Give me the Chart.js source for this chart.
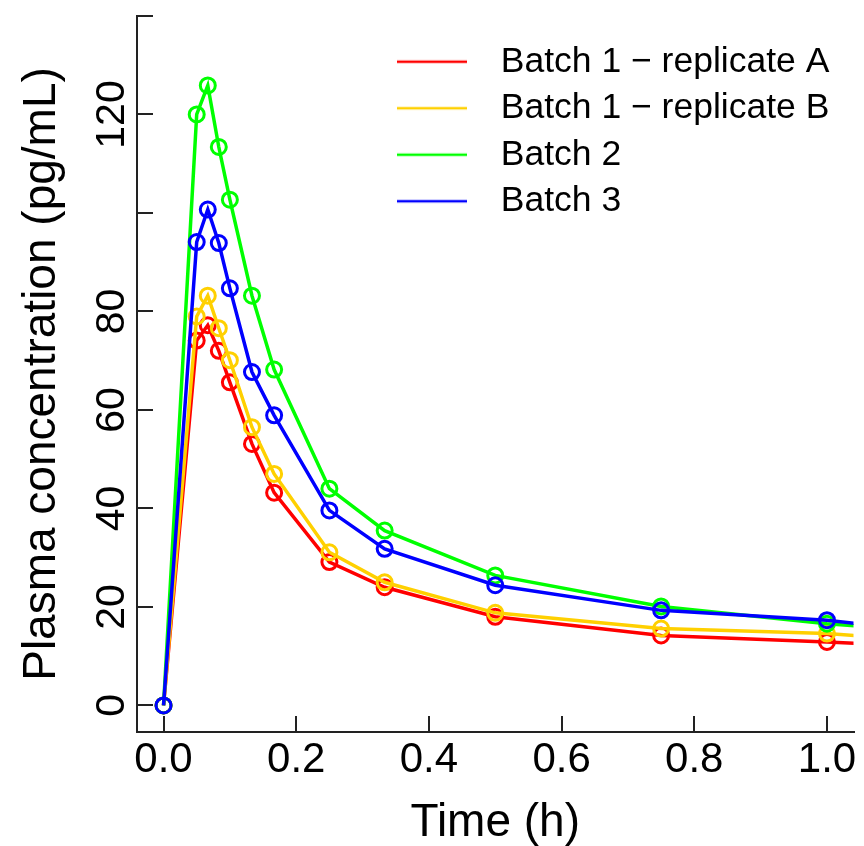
<!DOCTYPE html>
<html>
<head>
<meta charset="utf-8">
<script src="https://cdn.jsdelivr.net/npm/chart.js@4.4.1/dist/chart.umd.min.js"></script>
<style>
  html, body { margin: 0; padding: 0; background: #fff; }
  canvas { display: block; }
</style>
</head>
<body>
<canvas id="myChart" width="864" height="846"></canvas>
<script>
// sampling times (h)
let time_h = [0, 0.05, 0.0667, 0.0833, 0.1, 0.1333, 0.1667, 0.25, 0.3333, 0.5, 0.75, 1.0, 1.5]

// plasma concentration (pg/mL)
let batch1_a = [0, 74.1, 77.2, 72.0, 65.6, 53.1, 43.2, 29.1, 24.0, 18.0, 14.2, 12.9, 9.2]
let batch1_b = [0, 79.0, 83.2, 76.6, 70.1, 56.5, 47.0, 31.1, 25.0, 18.8, 15.6, 14.6, 9.6]
let batch2 = [0, 120.0, 125.9, 113.4, 102.7, 83.2, 68.2, 44.0, 35.5, 26.4, 20.1, 16.6, 11.6]
let batch3 = [0, 94.1, 100.7, 93.9, 84.7, 67.7, 58.9, 39.6, 31.8, 24.4, 19.3, 17.3, 9.8]

let series_names = ['Batch 1 \u2212 replicate A', 'Batch 1 \u2212 replicate B', 'Batch 2', 'Batch 3']
let series_colors = ['#FF0000', '#FFD000', '#00FF00', '#0000FF']

let x_ticks = [0, 0.2, 0.4, 0.6, 0.8, 1.0]
let y_ticks = [0, 20, 40, 60, 80, 100, 120, 140]
let y_labels = ['0', '20', '40', '60', '80', '', '120', '']

Chart.defaults.font.family = '"Liberation Sans", Arial, Helvetica, sans-serif'
Chart.defaults.color = '#000'

const all_series = [batch1_a, batch1_b, batch2, batch3]
const axis_color = '#222'

// small line images for the legend (line + empty gap before the text)
function legendLine(color) {
    let c = document.createElement('canvas')
    c.width = 86
    c.height = 8
    let g = c.getContext('2d')
    g.strokeStyle = color
    g.lineWidth = 2.5
    g.beginPath()
    g.moveTo(0, 4)
    g.lineTo(70, 4)
    g.stroke()
    return c
}

const datasets = all_series.map((vals, i) => ({
    label: series_names[i],
    data: time_h.map((t, j) => ({ x: t, y: vals[j] })),
    borderColor: series_colors[i],
    backgroundColor: series_colors[i],
    borderWidth: 3.5,
    pointRadius: 7.5,
    pointBorderWidth: 3,
    pointBackgroundColor: 'rgba(0,0,0,0)',
    pointBorderColor: series_colors[i],
    pointHoverRadius: 7.5,
    tension: 0,
    order: 4 - i
}))

const moveLegend = {
    id: 'moveLegend',
    afterLayout(chart) {
        let lg = chart.legend
        let w = lg.width, h = lg.height
        lg.left = 386
        lg.top = 33
        lg.right = lg.left + w
        lg.bottom = lg.top + h
    }
}

const ctx = document.getElementById('myChart')

new Chart(ctx, {
    type: 'line',
    data: { datasets: datasets },
    options: {
        responsive: false,
        animation: false,
        devicePixelRatio: 1,
        layout: { padding: { top: 16, right: 7, bottom: 0, left: 0 } },
        plugins: {
            tooltip: { enabled: false },
            legend: {
                position: 'chartArea',
                align: 'start',
                labels: {
                    usePointStyle: true,
                    pointStyleWidth: 86,
                    padding: 11,
                    color: '#000',
                    font: { size: 35.5 },
                    generateLabels(chart) {
                        return chart.data.datasets.map((ds, i) => ({
                            text: ds.label,
                            fillStyle: ds.borderColor,
                            strokeStyle: ds.borderColor,
                            lineWidth: 0,
                            pointStyle: legendLine(ds.borderColor),
                            hidden: false,
                            datasetIndex: i
                        }))
                    }
                }
            }
        },
        scales: {
            x: {
                type: 'linear',
                min: -0.04,
                max: 1.04,
                afterBuildTicks(scale) {
                    scale.ticks = x_ticks.map(v => ({ value: v }))
                },
                afterFit(scale) {
                    scale.height = 114
                    scale.paddingLeft = 0
                    scale.paddingRight = 0
                },
                border: { display: true, color: axis_color, width: 2 },
                grid: {
                    drawOnChartArea: false,
                    drawTicks: true,
                    tickLength: -16,
                    color: axis_color,
                    lineWidth: 2
                },
                ticks: {
                    autoSkip: false,
                    maxRotation: 0,
                    minRotation: 0,
                    padding: 19,
                    color: '#000',
                    font: { size: 42 },
                    callback: (v) => Number(v).toFixed(1)
                },
                title: {
                    display: true,
                    text: 'Time (h)',
                    color: '#000',
                    font: { size: 46 },
                    padding: { top: 0, bottom: -5 }
                }
            },
            y: {
                type: 'linear',
                min: -5.4,
                max: 140,
                afterBuildTicks(scale) {
                    scale.ticks = y_ticks.map(v => ({ value: v }))
                },
                afterFit(scale) {
                    scale.width = 137
                    scale.paddingTop = 0
                    scale.paddingBottom = 0
                },
                border: { display: true, color: axis_color, width: 2 },
                grid: {
                    drawOnChartArea: false,
                    drawTicks: true,
                    tickLength: -16,
                    color: axis_color,
                    lineWidth: 2
                },
                ticks: {
                    autoSkip: false,
                    minRotation: 90,
                    maxRotation: 90,
                    crossAlign: 'center',
                    padding: 6,
                    color: '#000',
                    font: { size: 41 },
                    callback: (v) => y_labels[y_ticks.indexOf(v)]
                },
                title: {
                    display: true,
                    text: 'Plasma concentration (pg/mL)',
                    color: '#000',
                    font: { size: 46 },
                    padding: { top: 15, bottom: 0 }
                }
            }
        }
    },
    plugins: [moveLegend]
})
</script>
</body>
</html>
